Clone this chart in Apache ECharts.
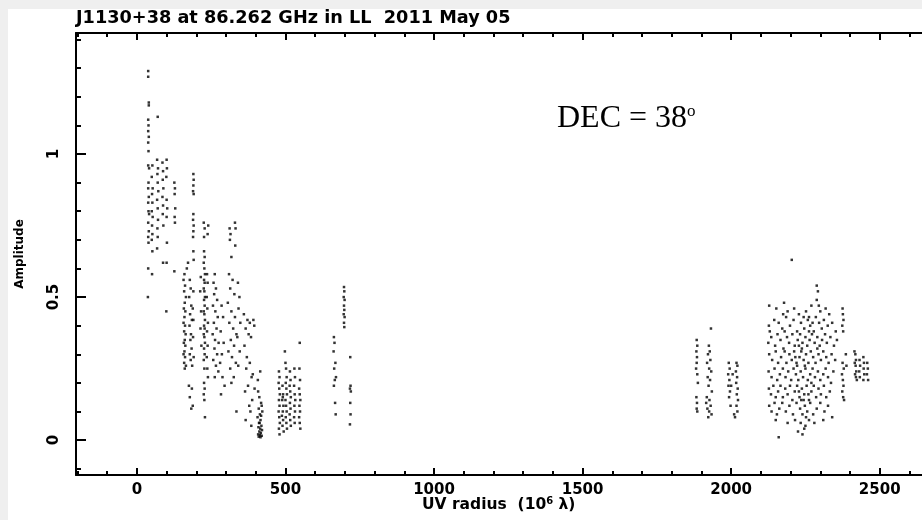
<!DOCTYPE html>
<html><head><meta charset="utf-8">
<script src="https://cdn.jsdelivr.net/npm/echarts@6/dist/echarts.min.js"></script>
<style>html,body{margin:0;padding:0;background:#fff}#c{width:922px;height:520px}</style>
</head><body><div id="c"></div>
<script>
// ---- text ----
const titleText = 'J1130+38 at 86.262 GHz in LL  2011 May 05';
const yName = 'Amplitude';
const decText = 'DEC = 38';

// ---- axis ticks ----
const xMin = -205, xMax = 2750;
const yMin = -0.122, yMax = 1.423;
const xMajorTicks = [0, 500, 1000, 1500, 2000, 2500];
const xMinorTicks = [-200, -100, 100, 200, 300, 400, 600, 700, 800, 900, 1100, 1200, 1300, 1400, 1600, 1700, 1800, 1900, 2100, 2200, 2300, 2400, 2600, 2700];
const yMajorTicks = [0, 0.5, 1];
const yMinorTicks = [-0.1, 0.1, 0.2, 0.3, 0.4, 0.6, 0.7, 0.8, 0.9, 1.1, 1.2, 1.3, 1.4];

// ---- visibilities: [uv radius, amplitude] ----
const clusterA = [[38,1.29],[38,1.27],[40,1.18],[40,1.17],[38,1.12],[39,1.10],[38,1.08],[40,1.06],[38,1.04],[39,1.01],[38,0.96],[41,0.95],[39,0.90],[38,0.88],[40,0.85],[38,0.83],[39,0.80],[41,0.79],[38,0.76],[40,0.73],[38,0.71],[39,0.69],[38,0.60],[37,0.50],
[52,0.96],[50,0.92],[53,0.88],[51,0.86],[52,0.83],[50,0.80],[53,0.78],[51,0.75],[52,0.72],[50,0.70],[52,0.66],[51,0.58],
[70,1.13],[68,0.98],[71,0.95],[69,0.93],[70,0.90],[72,0.87],[68,0.84],[70,0.81],[71,0.77],[69,0.74],[70,0.71],[68,0.67],
[86,0.97],[88,0.94],[87,0.91],[89,0.88],[86,0.85],[88,0.82],[87,0.79],[89,0.75],[88,0.62],
[100,0.98],[101,0.95],[99,0.92],[100,0.84],[102,0.81],[100,0.78],[101,0.69],[100,0.62],[99,0.45],
[126,0.90],[128,0.88],[127,0.86],[129,0.81],[127,0.78],[128,0.76],[126,0.59]];
const clusterB = [[190,0.93],[191,0.91],[190,0.89],[189,0.87],[191,0.86],[190,0.79],[189,0.77],[191,0.75],[190,0.73],[189,0.71],[190,0.66],[191,0.63],
[172,0.62],[168,0.60],[160,0.58],[157,0.56],[162,0.54],[159,0.52],[165,0.50],[161,0.48],[158,0.46],[163,0.45],[160,0.43],[157,0.41],[162,0.40],[159,0.38],[164,0.37],[161,0.35],[158,0.34],[163,0.33],[160,0.31],[157,0.30],[162,0.29],[159,0.27],[165,0.26],[161,0.25],
[178,0.56],[181,0.53],[176,0.50],[183,0.47],[179,0.44],[185,0.42],[177,0.40],[182,0.37],[180,0.35],[184,0.32],[178,0.30],[181,0.28],[186,0.26],
[190,0.52],[188,0.46],[190,0.42],[189,0.36],[191,0.29],
[175,0.19],[185,0.18],[178,0.15],[188,0.12],[183,0.11]];
const clusterC = [[225,0.76],[228,0.74],[226,0.71],[240,0.75],[238,0.72],[226,0.66],[228,0.64],[225,0.62],[227,0.60],[229,0.58],[226,0.56],[228,0.55],[225,0.53],[227,0.52],[229,0.50],[226,0.49],[228,0.47],[225,0.45],[227,0.44],[229,0.42],[226,0.40],[228,0.39],[225,0.37],[227,0.36],[229,0.34],[226,0.32],[228,0.30],[225,0.28],[227,0.25],[226,0.20],[228,0.18],[225,0.16],[227,0.14],[229,0.08],
[236,0.58],[238,0.55],[235,0.50],[237,0.46],[239,0.41],[236,0.38],[238,0.33],[235,0.29],[237,0.25],[239,0.22],
[215,0.57],[213,0.52],[216,0.45],[214,0.39],[217,0.33]];
const clusterD = [[262,0.58],[258,0.55],[266,0.53],[260,0.51],[270,0.49],[256,0.47],[264,0.45],[272,0.43],[259,0.41],[268,0.39],[255,0.37],[263,0.35],[275,0.34],[261,0.32],[270,0.30],[257,0.28],[266,0.26],[274,0.24],[262,0.22],[285,0.47],[290,0.43],[282,0.38],[292,0.34],[286,0.30],[280,0.27],[288,0.22],[295,0.19],[283,0.16]];
const clusterE = [[312,0.74],[315,0.72],[313,0.70],[330,0.76],[332,0.74],[331,0.68],[318,0.64],[310,0.58],[322,0.56],[314,0.53],[328,0.51],[306,0.48],[318,0.45],[330,0.43],[311,0.41],[324,0.39],[335,0.37],[316,0.35],[327,0.33],[308,0.31],[320,0.29],[333,0.27],[314,0.25],[326,0.22],[318,0.20],[340,0.55],[345,0.50],[342,0.46],[348,0.41],[338,0.36],[346,0.31],[341,0.26],[335,0.10]];
const clusterF = [[360,0.44],[372,0.42],[380,0.41],[366,0.39],[376,0.37],[384,0.36],[362,0.33],[370,0.29],[380,0.27],[368,0.25],[386,0.22],[374,0.19],[364,0.17],[388,0.14],[378,0.12],[382,0.10],[366,0.07],[385,0.05],[392,0.42],[395,0.40],[390,0.23],[396,0.18]];
const clusterG = [[408,0.17],[412,0.15],[418,0.13],[410,0.11],[414,0.09],[420,0.12],[406,0.08],[416,0.07],[411,0.06],[419,0.05],[409,0.045],[415,0.04],[421,0.035],[412,0.03],[417,0.025],[408,0.02],[414,0.018],[420,0.015],[410,0.012],[416,0.01],[413,0.06],[418,0.085],[422,0.1],[407,0.21],[415,0.24]];
const clusterH = [[478,0.24],[480,0.22],[477,0.20],[479,0.18],[481,0.16],[478,0.14],[480,0.12],[477,0.10],[479,0.08],[481,0.06],[478,0.04],[480,0.02],
[490,0.19],[492,0.16],[489,0.14],[493,0.12],[491,0.10],[488,0.085],[492,0.07],[490,0.05],[494,0.03],[491,0.15],
[500,0.27],[502,0.25],[504,0.22],[501,0.20],[503,0.18],[505,0.16],[500,0.14],[502,0.12],[504,0.10],[501,0.08],[503,0.06],[505,0.04],[498,0.31],
[515,0.24],[517,0.21],[514,0.19],[516,0.17],[518,0.15],[515,0.13],[517,0.11],[514,0.09],[516,0.07],[518,0.05],
[530,0.25],[532,0.22],[529,0.19],[531,0.16],[533,0.14],[530,0.12],[532,0.10],[529,0.08],[531,0.06],
[548,0.34],[547,0.25],[549,0.21],[546,0.18],[548,0.16],[550,0.14],[547,0.12],[549,0.10],[546,0.08],[548,0.06],[550,0.04]];
const clusterI = [[663,0.36],[665,0.34],[662,0.31],[668,0.27],[664,0.25],[670,0.22],[666,0.21],[663,0.19],[667,0.13],[669,0.09]];
const clusterJ = [[697,0.535],[698,0.52],[696,0.50],[699,0.49],[697,0.47],[698,0.455],[696,0.44],[699,0.43],[697,0.41],[698,0.395],
[718,0.29],[719,0.19],[717,0.18],[720,0.17],[718,0.13],[719,0.09],[717,0.055]];
const clusterK1 = [[1884,0.35],[1886,0.33],[1883,0.31],[1885,0.29],[1884,0.27],[1886,0.23],[1883,0.15],[1885,0.13],[1884,0.11],[1886,0.10],[1888,0.20],[1882,0.25]];
const clusterK2 = [[1932,0.39],[1925,0.33],[1928,0.31],[1922,0.30],[1930,0.28],[1919,0.27],[1926,0.25],[1933,0.24],[1921,0.22],[1929,0.21],[1924,0.19],[1935,0.17],[1918,0.15],[1927,0.14],[1931,0.12],[1920,0.11],[1926,0.10],[1934,0.09],[1923,0.08],[1916,0.13]];
const clusterK3 = [[1992,0.27],[1995,0.25],[1990,0.23],[1994,0.21],[1991,0.19],[1996,0.17],[1993,0.15],[1998,0.12],[2018,0.27],[2021,0.26],[2016,0.24],[2020,0.22],[2017,0.20],[2022,0.18],[2019,0.16],[2023,0.14],[2018,0.12],[2021,0.10],[2010,0.09],[2013,0.08],[2000,0.19],[2005,0.23]];
const clusterMain = [[2128,0.47],[2152,0.46],[2175,0.44],[2190,0.45],[2212,0.46],[2228,0.44],[2252,0.45],[2270,0.47],[2288,0.49],[2295,0.47],[2318,0.46],[2330,0.44],[2178,0.48],[2262,0.43],[2300,0.45],
[2204,0.63],[2288,0.54],[2292,0.52],[2160,0.01],[2225,0.03],[2240,0.02],[2250,0.05],
[2127,0.40],[2130,0.38],[2145,0.42],[2160,0.41],[2172,0.39],[2185,0.43],[2198,0.40],[2210,0.42],[2222,0.38],[2235,0.41],[2246,0.39],[2258,0.42],[2266,0.40],[2278,0.38],[2285,0.43],[2296,0.41],[2305,0.39],[2312,0.42],[2325,0.40],[2340,0.41],[2352,0.38],[2180,0.38],[2244,0.43],[2274,0.41],
[2125,0.34],[2135,0.36],[2148,0.33],[2156,0.37],[2166,0.35],[2176,0.32],[2188,0.36],[2195,0.34],[2206,0.37],[2214,0.33],[2224,0.35],[2232,0.37],[2240,0.34],[2250,0.36],[2256,0.33],[2264,0.35],[2272,0.37],[2281,0.34],[2290,0.36],[2298,0.33],[2306,0.35],[2316,0.37],[2322,0.34],[2334,0.36],[2346,0.33],[2356,0.35],[2238,0.32],[2262,0.38],[2228,0.33],
[2128,0.30],[2138,0.28],[2150,0.31],[2158,0.27],[2168,0.29],[2180,0.31],[2186,0.27],[2196,0.30],[2204,0.28],[2212,0.31],[2220,0.27],[2230,0.29],[2236,0.31],[2244,0.28],[2252,0.30],[2260,0.27],[2268,0.31],[2276,0.29],[2284,0.27],[2294,0.30],[2302,0.28],[2310,0.31],[2320,0.29],[2328,0.27],[2338,0.30],[2350,0.28],[2216,0.29],[2248,0.26],[2290,0.32],
[2126,0.24],[2136,0.22],[2146,0.25],[2155,0.21],[2164,0.23],[2174,0.25],[2183,0.22],[2192,0.24],[2202,0.21],[2210,0.25],[2218,0.23],[2226,0.21],[2234,0.24],[2242,0.22],[2250,0.25],[2258,0.21],[2266,0.23],[2274,0.25],[2282,0.22],[2292,0.24],[2300,0.21],[2310,0.23],[2318,0.25],[2326,0.22],[2336,0.20],[2344,0.24],[2222,0.26],[2270,0.20],
[2127,0.18],[2134,0.16],[2142,0.19],[2150,0.15],[2158,0.17],[2166,0.19],[2174,0.15],[2182,0.18],[2190,0.16],[2198,0.19],[2206,0.14],[2214,0.17],[2222,0.19],[2230,0.15],[2238,0.18],[2246,0.16],[2254,0.19],[2262,0.14],[2270,0.17],[2278,0.19],[2286,0.15],[2294,0.18],[2302,0.16],[2312,0.19],[2320,0.15],[2332,0.17],[2228,0.17],[2244,0.14],[2260,0.16],
[2128,0.12],[2136,0.10],[2146,0.13],[2154,0.09],[2162,0.11],[2172,0.13],[2184,0.10],[2196,0.12],[2208,0.09],[2220,0.13],[2232,0.11],[2240,0.09],[2248,0.12],[2256,0.10],[2266,0.13],[2276,0.09],[2288,0.11],[2300,0.13],[2314,0.10],[2326,0.12],[2340,0.08],[2236,0.14],[2252,0.08],
[2150,0.07],[2190,0.06],[2215,0.07],[2234,0.06],[2246,0.04],[2262,0.07],[2280,0.06],[2310,0.07]];
const clusterK4 = [[2375,0.46],[2376,0.44],[2378,0.42],[2374,0.40],[2377,0.38],[2375,0.27],[2379,0.25],[2373,0.23],[2376,0.21],[2378,0.19],[2374,0.17],[2377,0.15],[2380,0.14],[2386,0.30],[2388,0.26]];
const clusterK5 = [[2415,0.31],[2418,0.30],[2420,0.28],[2416,0.27],[2419,0.26],[2421,0.24],[2417,0.23],[2420,0.22],[2423,0.21],[2432,0.28],[2434,0.26],[2431,0.24],[2433,0.22],[2445,0.29],[2447,0.27],[2446,0.25],[2448,0.23],[2445,0.21],[2458,0.27],[2460,0.25],[2457,0.23],[2461,0.21]];

const allPoints = [].concat(clusterA, clusterB, clusterC, clusterD, clusterE, clusterF, clusterG, clusterH, clusterI, clusterJ, clusterK1, clusterK2, clusterK3, clusterMain, clusterK4, clusterK5);

const FONT = 'DejaVu Sans';
const lineCol = '#000';
const plain = v => String(v);
function xAx(pos, ticks, len, showLine, labels) {
  return {
    type: 'value', position: pos, min: xMin, max: xMax,
    axisLine: { show: showLine, onZero: false, lineStyle: { color: lineCol, width: 2 } },
    axisTick: { show: true, inside: true, length: len, customValues: ticks, lineStyle: { color: lineCol, width: 2 } },
    axisLabel: labels ? { show: true, customValues: ticks, formatter: plain, color: '#000', fontFamily: FONT, fontWeight: 'bold', fontSize: 15, margin: 8 } : { show: false },
    splitLine: { show: false }
  };
}
function yAx(ticks, len, showLine, labels) {
  const a = {
    type: 'value', position: 'left', min: yMin, max: yMax,
    axisLine: { show: showLine, onZero: false, lineStyle: { color: lineCol, width: 2 } },
    axisTick: { show: true, inside: true, length: len, customValues: ticks, lineStyle: { color: lineCol, width: 2 } },
    axisLabel: labels ? { show: true, customValues: ticks, formatter: plain, rotate: 90, color: '#000', fontFamily: FONT, fontWeight: 'bold', fontSize: 15, margin: 14 } : { show: false },
    splitLine: { show: false }
  };
  if (labels) {
    a.name = yName; a.nameLocation = 'middle'; a.nameRotate = 90; a.nameGap = 50;
    a.nameTextStyle = { color: '#000', fontFamily: FONT, fontWeight: 'bold', fontSize: 12 };
  }
  return a;
}

const chart = echarts.init(document.getElementById('c'), null, { renderer: 'canvas' });
chart.setOption({
  backgroundColor: '#ffffff',
  animation: false,
  title: [
    { text: titleText, left: 76, top: 9, padding: 0,
      textStyle: { color: '#000', fontFamily: FONT, fontWeight: 'bold', fontSize: 17.7 } },
    { text: '{a|UV radius  (10}{s|6}{a| λ)}', left: 422, top: 496, padding: 0,
      textStyle: { rich: {
        a: { color: '#000', fontFamily: FONT, fontWeight: 'bold', fontSize: 15.5 },
        s: { color: '#000', fontFamily: FONT, fontWeight: 'bold', fontSize: 10, verticalAlign: 'top', padding: [0, 0, 8, 0] } } } },
    { text: '{a|' + decText + '}{s|o}', left: 557, top: 103, padding: 0,
      textStyle: { fontWeight: 'normal', rich: {
        a: { color: '#000', fontFamily: 'Liberation Serif', fontWeight: 'normal', fontSize: 32 },
        s: { color: '#000', fontFamily: 'Liberation Serif', fontWeight: 'normal', fontSize: 17, padding: [0, 0, 14, 0] } } } }
  ],
  graphic: [
    { type: 'rect', left: 0, top: 0, shape: { width: 922, height: 9 }, style: { fill: '#efefef' }, silent: true },
    { type: 'rect', left: 0, top: 0, shape: { width: 8, height: 520 }, style: { fill: '#efefef' }, silent: true }
  ],
  grid: { left: 76, top: 33, width: 878, height: 442, containLabel: false, outerBoundsMode: 'none' },
  xAxis: [
    xAx('bottom', xMajorTicks, 7, true, true),
    xAx('bottom', xMinorTicks, 4, false, false),
    xAx('top', xMajorTicks, 7, true, false),
    xAx('top', xMinorTicks, 4, false, false)
  ],
  yAxis: [
    yAx(yMajorTicks, 10, true, true),
    yAx(yMinorTicks, 5, false, false)
  ],
  series: [{
    type: 'scatter', xAxisIndex: 0, yAxisIndex: 0,
    symbol: 'rect', symbolSize: 2.5,
    itemStyle: { color: '#000' },
    data: allPoints
  }]
});
</script></body></html>
